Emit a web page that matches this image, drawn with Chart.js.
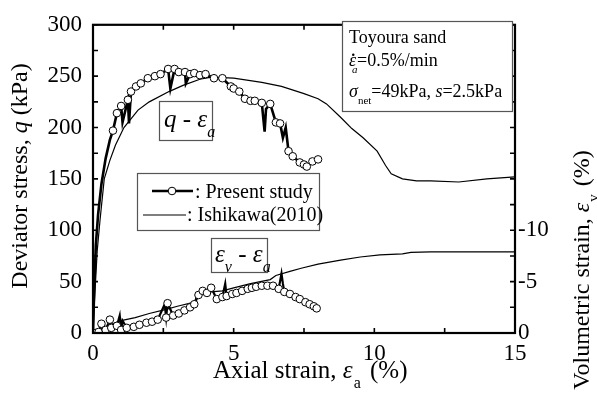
<!DOCTYPE html>
<html lang="en">
<head>
<meta charset="utf-8" />
<title>Deviator stress and volumetric strain</title>
<style>
    html, body { margin: 0; padding: 0; background: #fff; }
    #wrap { width: 597px; height: 405px; }
</style>
</head>
<body>
<div id="wrap"><canvas id="stressChart" width="597" height="405"></canvas></div>
<script src="https://cdn.jsdelivr.net/npm/chart.js"></script>
<script>
    // ---- data: axial strain (%) vs deviator stress q (kPa) / volumetric strain (%) ----
    // present study, q: line lead-in, measured points (circles), short dips on the line
    var presentQLead = [[0, 0], [0.04, 40], [0.1, 85], [0.18, 115], [0.3, 145], [0.45, 170], [0.6, 188]];
    var presentQ = [[0.71, 197], [0.85, 214], [1.0, 221], [1.24, 227], [1.35, 235], [1.53, 240], [1.7, 243],
        [1.95, 248], [2.2, 250], [2.4, 252], [2.67, 257], [2.9, 257], [3.05, 254], [3.27, 254], [3.45, 252],
        [3.6, 253], [3.8, 251], [4.0, 252], [4.3, 248], [4.6, 248], [4.9, 240], [5.0, 238], [5.2, 235],
        [5.4, 228], [5.6, 226], [5.75, 226], [6.0, 224], [6.3, 223], [6.5, 205], [6.65, 204], [6.95, 177],
        [7.1, 172], [7.35, 166], [7.5, 164], [7.6, 162], [7.8, 167], [8.0, 169]];
    var presentQDips = [[1.05, 205], [1.28, 204], [2.75, 238], [3.3, 243], [6.1, 196], [6.15, 218],
        [6.75, 190], [6.85, 200]];

    // present study, volumetric strain (negative = contraction, plotted upward)
    var presentEv = [[0, 0], [0.1, 0], [0.2, -0.1], [0.3, -0.9], [0.45, -0.3], [0.6, -1.3], [0.65, -0.5],
        [0.85, -0.7], [1.0, -0.3], [1.2, -0.5], [1.45, -0.6], [1.65, -0.8], [1.9, -1.0], [2.1, -1.1],
        [2.3, -1.3], [2.6, -1.5], [2.65, -2.9], [2.85, -1.7], [3.05, -1.9], [3.25, -2.2], [3.45, -2.5],
        [3.6, -2.8], [3.75, -3.7], [3.9, -4.1], [4.05, -3.9], [4.2, -4.4], [4.4, -3.3], [4.6, -3.5],
        [4.75, -3.6], [4.95, -3.8], [5.1, -3.9], [5.3, -4.1], [5.5, -4.3], [5.65, -4.4], [5.8, -4.5],
        [6.0, -4.6], [6.2, -4.6], [6.4, -4.6], [6.6, -4.3], [6.8, -4.0], [7.0, -3.8], [7.2, -3.5],
        [7.35, -3.3], [7.55, -3.0], [7.7, -2.8], [7.85, -2.6], [7.95, -2.4]];
    var presentEvSpikes = [[0.95, -1.7], [1.05, -1.2], [2.55, -2.8], [4.7, -4.8], [6.7, -5.8], [6.75, -4.8]];

    // Ishikawa (2010)
    var ishikawaQ = [[0, 0], [0.05, 30], [0.15, 80], [0.25, 110], [0.4, 150], [0.6, 168], [0.8, 183],
        [1.1, 200], [1.6, 217], [2.0, 225], [2.7, 235], [3.2, 241], [3.8, 247], [4.2, 249], [5.0, 248],
        [6.0, 244], [6.7, 240], [7.5, 233], [8.0, 228], [8.3, 223], [8.8, 210], [9.2, 199], [9.6, 190],
        [10.1, 177], [10.4, 163], [10.6, 155], [11.0, 150], [11.5, 148], [12.0, 148], [13.0, 147],
        [14.0, 150], [15.0, 152]];
    var ishikawaEv = [[0, 0], [0.3, -0.4], [0.6, -0.8], [1.0, -1.2], [1.5, -1.5], [2.0, -1.9], [2.6, -2.3],
        [3.0, -2.6], [3.6, -3.0], [3.7, -3.7], [4.2, -4.0], [4.6, -4.1], [5.0, -4.4], [5.6, -4.8],
        [6.3, -5.2], [6.5, -5.6], [7.0, -6.0], [7.4, -6.3], [8.0, -6.7], [8.8, -7.1], [9.5, -7.4],
        [10.2, -7.6], [11.0, -7.7], [11.3, -7.85], [12.0, -7.9], [13.0, -7.9], [14.0, -7.9], [15.0, -7.9]];

    var xTicks = [0, 5, 10, 15];
    var qTicks = [0, 50, 100, 150, 200, 250, 300];
    var evTicks = [0, -5, -10];

    var SERIF = "'Liberation Serif', 'Times New Roman', serif";

    function pts(arr) {
        return arr.map(function (p) { return { x: p[0], y: p[1] }; });
    }
    function merged() {
        var all = [];
        for (var i = 0; i < arguments.length; i++) all = all.concat(arguments[i]);
        all.sort(function (a, b) { return a[0] - b[0]; });
        return pts(all);
    }

    // text runs: {t, it (italic), sub (subscript), dx (extra shift), dot (accent above), noAdvance}
    function richWidth(ctx, parts, size) {
        var w = 0;
        parts.forEach(function (p) {
            var s = p.sub ? Math.round(size * 0.62) : size;
            ctx.font = (p.it ? 'italic ' : '') + s + 'px ' + SERIF;
            if (!p.noAdvance) w += ctx.measureText(p.t).width + (p.dx || 0);
        });
        return w;
    }
    function drawRich(ctx, parts, x, y, size) {
        var cx = x;
        ctx.textBaseline = 'alphabetic';
        ctx.textAlign = 'left';
        parts.forEach(function (p) {
            var s = p.sub ? Math.round(size * 0.62) : size;
            ctx.font = (p.it ? 'italic ' : '') + s + 'px ' + SERIF;
            var tx = cx + (p.dx || 0), ty = y + (p.sub ? size * 0.38 : 0);
            ctx.fillText(p.t, tx, ty);
            var w = ctx.measureText(p.t).width;
            if (p.dot) {
                ctx.beginPath();
                ctx.arc(tx + w * 0.6, ty - s * 0.62, s * 0.07, 0, Math.PI * 2);
                ctx.fill();
            }
            if (!p.noAdvance) cx += w + (p.dx || 0);
        });
    }
    function drawRichRotated(ctx, parts, cx, cy, size) {
        ctx.save();
        ctx.translate(cx, cy);
        ctx.rotate(-Math.PI / 2);
        var w = richWidth(ctx, parts, size);
        drawRich(ctx, parts, -w / 2, 0, size);
        ctx.restore();
    }
    function box(ctx, x, y, w, h) {
        ctx.save();
        ctx.fillStyle = '#fff';
        ctx.fillRect(x, y, w, h);
        ctx.strokeStyle = '#555';
        ctx.lineWidth = 1.2;
        ctx.strokeRect(x + 0.5, y + 0.5, w, h);
        ctx.restore();
    }

    var framePlugin = {
        id: 'frameAndNotes',
        afterDatasetsDraw: function (chart) {
            var ctx = chart.ctx, a = chart.chartArea;
            var xs = chart.scales.x, ys = chart.scales.y;
            ctx.save();
            ctx.strokeStyle = '#000';
            ctx.lineWidth = 1.6;
            // inward ticks on all four sides
            ctx.beginPath();
            for (var v = 0; v <= 15; v += 2.5) {
                var px = xs.getPixelForValue(v);
                ctx.moveTo(px, a.bottom); ctx.lineTo(px, a.bottom - 5);
                ctx.moveTo(px, a.top); ctx.lineTo(px, a.top + 5);
            }
            for (var q = 0; q <= 300; q += 25) {
                var py = ys.getPixelForValue(q);
                ctx.moveTo(a.left, py); ctx.lineTo(a.left + 5, py);
                ctx.moveTo(a.right, py); ctx.lineTo(a.right - 5, py);
            }
            ctx.stroke();
            ctx.lineWidth = 2.2;
            ctx.strokeRect(a.left, a.top, a.right - a.left, a.bottom - a.top);
            ctx.restore();
        },
        afterDraw: function (chart) {
            var ctx = chart.ctx;
            ctx.save();
            ctx.fillStyle = '#000';

            // axis titles
            drawRich(ctx, [{ t: 'Axial strain, ' }, { t: 'ε', it: true }, { t: 'a', sub: true, dx: 1 },
                { t: ' (%)', dx: 3 }], 213, 378, 25);
            drawRichRotated(ctx, [{ t: 'Deviator stress, ' }, { t: 'q', it: true }, { t: ' (kPa)' }], 27, 176, 24);
            drawRichRotated(ctx, [{ t: 'Volumetric strain, ' }, { t: 'ε', it: true }, { t: 'v', sub: true, dx: 1 },
                { t: ' (%)', dx: 2 }], 589, 270, 24);

            // test conditions
            box(ctx, 342, 21, 170, 90);
            ctx.fillStyle = '#000';
            drawRich(ctx, [{ t: 'Toyoura sand' }], 349, 43, 18);
            drawRich(ctx, [{ t: 'ε', it: true, dot: true, noAdvance: true },
                { t: 'a', it: true, sub: true, dx: 3, noAdvance: true },
                { t: '=0.5%/min', dx: 8 }], 349, 66, 18);
            drawRich(ctx, [{ t: 'σ', it: true }, { t: 'net', sub: true }, { t: '=49kPa, ' }, { t: 's', it: true },
                { t: '=2.5kPa' }], 349, 97, 18);

            // curve labels
            box(ctx, 159, 101, 53, 39);
            ctx.fillStyle = '#000';
            drawRich(ctx, [{ t: 'q', it: true }, { t: ' - ' }, { t: 'ε', it: true }, { t: 'a', it: true, sub: true }],
                164, 127, 25);
            box(ctx, 211, 238, 56, 34);
            ctx.fillStyle = '#000';
            drawRich(ctx, [{ t: 'ε', it: true }, { t: 'v', it: true, sub: true }, { t: ' - ' }, { t: 'ε', it: true },
                { t: 'a', it: true, sub: true }], 215, 262, 25);

            // legend
            box(ctx, 137, 173, 182, 57);
            ctx.strokeStyle = '#000';
            ctx.lineWidth = 2.6;
            ctx.beginPath(); ctx.moveTo(152, 191); ctx.lineTo(193, 191); ctx.stroke();
            ctx.lineWidth = 1;
            ctx.fillStyle = '#fff';
            ctx.beginPath(); ctx.arc(172, 191, 3.8, 0, Math.PI * 2); ctx.fill(); ctx.stroke();
            ctx.lineWidth = 1.1;
            ctx.beginPath(); ctx.moveTo(143, 215); ctx.lineTo(186, 215); ctx.stroke();
            ctx.fillStyle = '#000';
            drawRich(ctx, [{ t: ': Present study' }], 195, 198, 20);
            drawRich(ctx, [{ t: ': Ishikawa(2010)' }], 187, 221, 20);
            ctx.restore();
        }
    };

    var ctx = document.getElementById('stressChart').getContext('2d');
    var tickFont = { family: SERIF, size: 23 };

    var chart = new Chart(ctx, {
        type: 'scatter',
        data: {
            datasets: [
                { data: pts(presentQ), yAxisID: 'y', showLine: false, pointRadius: 3.8,
                  pointBackgroundColor: '#fff', pointBorderColor: '#000', pointBorderWidth: 1 },
                { data: pts(presentEv), yAxisID: 'y2', showLine: false, pointRadius: 3.8,
                  pointBackgroundColor: '#fff', pointBorderColor: '#000', pointBorderWidth: 1 },
                { data: merged(presentQLead, presentQ, presentQDips), yAxisID: 'y', showLine: true,
                  borderColor: '#000', borderWidth: 2.6, pointRadius: 0, tension: 0 },
                { data: merged(presentEv, presentEvSpikes), yAxisID: 'y2', showLine: true,
                  borderColor: '#000', borderWidth: 2.2, pointRadius: 0, tension: 0 },
                { data: pts(ishikawaQ), yAxisID: 'y', showLine: true,
                  borderColor: '#000', borderWidth: 1.2, pointRadius: 0, tension: 0 },
                { data: pts(ishikawaEv), yAxisID: 'y2', showLine: true,
                  borderColor: '#000', borderWidth: 1.2, pointRadius: 0, tension: 0 }
            ]
        },
        options: {
            responsive: false,
            animation: false,
            devicePixelRatio: 1,
            layout: { padding: { top: 17, left: 0, right: 0, bottom: 0 } },
            plugins: { legend: { display: false }, tooltip: { enabled: false } },
            scales: {
                x: {
                    type: 'linear', min: 0, max: 15,
                    grid: { display: false, drawTicks: false },
                    border: { display: false },
                    afterBuildTicks: function (s) { s.ticks = xTicks.map(function (v) { return { value: v }; }); },
                    ticks: { font: tickFont, color: '#000', padding: 7, maxRotation: 0 },
                    afterFit: function (s) { s.height = 72; }
                },
                y: {
                    type: 'linear', position: 'left', min: 0, max: 300,
                    grid: { display: false, drawTicks: false },
                    border: { display: false },
                    afterBuildTicks: function (s) { s.ticks = qTicks.map(function (v) { return { value: v }; }); },
                    ticks: { font: tickFont, color: '#000', padding: 11 },
                    afterFit: function (s) { s.width = 93; }
                },
                y2: {
                    type: 'linear', position: 'right', min: -30, max: 0, reverse: true,
                    grid: { display: false, drawTicks: false },
                    border: { display: false },
                    afterBuildTicks: function (s) { s.ticks = evTicks.map(function (v) { return { value: v }; }); },
                    ticks: { font: tickFont, color: '#000', padding: 3 },
                    afterFit: function (s) { s.width = 82; }
                }
            }
        },
        plugins: [framePlugin]
    });
</script>
</body>
</html>
